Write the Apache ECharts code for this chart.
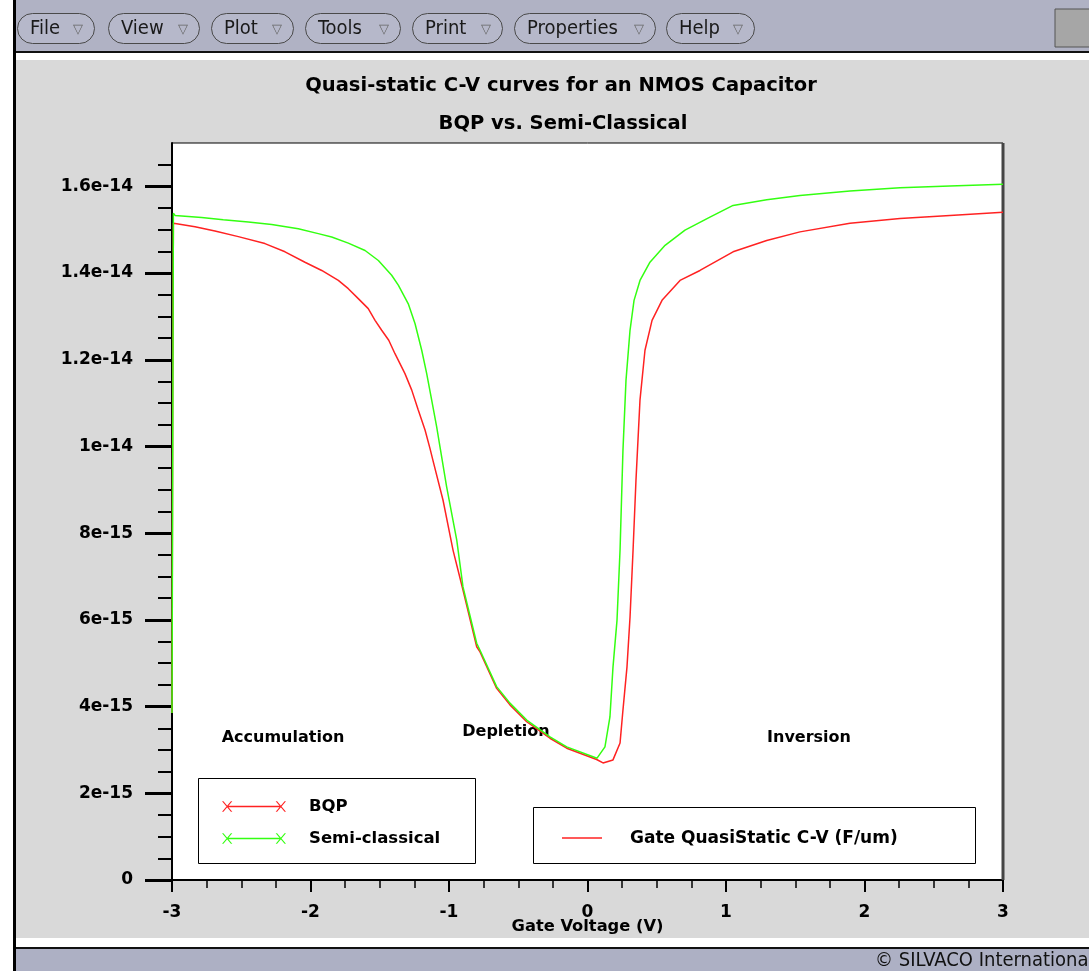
<!DOCTYPE html>
<html>
<head>
<meta charset="utf-8">
<title>Quasi-static C-V curves</title>
<script src="https://cdn.jsdelivr.net/npm/echarts@6/dist/echarts.min.js"></script>
<style>
  html, body { margin: 0; padding: 0; background: #fff; }
  #cv { width: 1089px; height: 971px; }
</style>
</head>
<body>
<div id="cv"></div>
<script>
// gate voltage (V) and capacitance (units of 1e-15 F/um)
var bqpV = [-3.0, -2.995, -2.99, -2.966, -2.834, -2.690, -2.521, -2.329, -2.184, -2.040, -1.919, -1.799, -1.727, -1.655, -1.583, -1.534, -1.486, -1.435, -1.390, -1.318, -1.269, -1.222, -1.173, -1.137, -1.116, -1.043, -0.971, -0.899, -0.8, -0.776, -0.656, -0.56, -0.439, -0.271, -0.15, 0.066, 0.112, 0.184, 0.235, 0.256, 0.285, 0.307, 0.329, 0.35, 0.379, 0.415, 0.466, 0.538, 0.668, 0.812, 1.051, 1.294, 1.534, 1.895, 2.256, 2.617, 3.0];
var bqpC = [3.85, 11.4, 15.15, 15.14, 15.07, 14.97, 14.84, 14.68, 14.49, 14.25, 14.06, 13.83, 13.64, 13.41, 13.18, 12.91, 12.68, 12.45, 12.14, 11.68, 11.30, 10.84, 10.38, 9.95, 9.68, 8.76, 7.61, 6.69, 5.38, 5.26, 4.42, 4.04, 3.65, 3.27, 3.04, 2.78, 2.70, 2.77, 3.16, 3.92, 4.91, 6.06, 7.61, 9.22, 11.07, 12.22, 12.91, 13.37, 13.83, 14.06, 14.49, 14.75, 14.95, 15.15, 15.26, 15.33, 15.40];

var semiV = [-3.0, -2.99, -2.978, -2.786, -2.630, -2.449, -2.280, -2.088, -1.944, -1.847, -1.727, -1.606, -1.510, -1.414, -1.366, -1.294, -1.245, -1.197, -1.161, -1.125, -1.089, -1.065, -1.017, -0.944, -0.899, -0.8, -0.776, -0.656, -0.56, -0.439, -0.271, -0.15, 0.069, 0.126, 0.162, 0.184, 0.213, 0.235, 0.256, 0.278, 0.307, 0.336, 0.379, 0.451, 0.56, 0.704, 0.884, 1.051, 1.294, 1.534, 1.895, 2.256, 2.617, 3.0];
var semiC = [3.85, 15.38, 15.33, 15.28, 15.23, 15.18, 15.12, 15.02, 14.91, 14.83, 14.69, 14.52, 14.29, 13.95, 13.72, 13.29, 12.83, 12.22, 11.68, 11.07, 10.45, 9.99, 9.07, 7.84, 6.76, 5.46, 5.30, 4.46, 4.08, 3.69, 3.30, 3.07, 2.81, 3.07, 3.76, 4.91, 5.99, 7.61, 9.91, 11.53, 12.68, 13.37, 13.83, 14.25, 14.64, 14.99, 15.29, 15.56, 15.69, 15.79, 15.89, 15.97, 16.01, 16.05];

var yTickValues = [0, 2, 4, 6, 8, 10, 12, 14, 16];
var yTickLabels = ['0', '2e-15', '4e-15', '6e-15', '8e-15', '1e-14', '1.2e-14', '1.4e-14', '1.6e-14'];
var seriesNames = ['BQP', 'Semi-classical'];
var regionNames = ['Accumulation', 'Depletion', 'Inversion'];
var menuNames = ['File', 'View', 'Plot', 'Tools', 'Print', 'Properties', 'Help'];

function zip(xs, ys) {
    var out = [];
    for (var i = 0; i < xs.length; i++) {
        out.push([xs[i], ys[i]]);
    }
    return out;
}

var FONT = 'DejaVu Sans';
var MENU_FONT = '"DejaVu Sans Condensed", "DejaVu Sans"';
var RED = '#ff2222';
var GREEN = '#33ff11';

// line with an x at each end, like the TonyPlot legend
var legendIcon = 'path://M1,1L2.4,1L11,11L9.6,11Z M9.6,1L11,1L2.4,11L1,11Z' +
    ' M6,5.3L58,5.3L58,6.7L6,6.7Z' +
    ' M53,1L54.4,1L63,11L61.6,11Z M61.6,1L63,1L54.4,11L53,11Z';

// window chrome: menu bar, borders, footer
var menuLeft = [17, 108, 211, 305, 412, 514, 666];
var menuRight = [94, 199, 293, 400, 502, 655, 754];
var chrome = [
    {type: 'rect', shape: {x: 0, y: 0, width: 1089, height: 971}, style: {fill: '#d9d9d9'}, z: -10},
    {type: 'rect', shape: {x: 16, y: 0, width: 1073, height: 51}, style: {fill: '#b0b2c4'}, z: -9},
    {type: 'rect', shape: {x: 16, y: 51, width: 1073, height: 2}, style: {fill: '#111'}, z: -9},
    {type: 'rect', shape: {x: 16, y: 53, width: 1073, height: 7}, style: {fill: '#fff'}, z: -9},
    {type: 'rect', shape: {x: 16, y: 938, width: 1073, height: 9}, style: {fill: '#fff'}, z: -9},
    {type: 'rect', shape: {x: 16, y: 947, width: 1073, height: 2}, style: {fill: '#111'}, z: -9},
    {type: 'rect', shape: {x: 16, y: 949, width: 1073, height: 22}, style: {fill: '#adb0c4'}, z: -9},
    {type: 'rect', shape: {x: 0, y: 0, width: 13, height: 971}, style: {fill: '#fff'}, z: -9},
    {type: 'rect', shape: {x: 13, y: 0, width: 3, height: 971}, style: {fill: '#000'}, z: -9},
    {type: 'rect', shape: {x: 1055, y: 9, width: 40, height: 38}, style: {fill: '#a6a6a6', stroke: '#555', lineWidth: 1}, z: -8},
    {type: 'text', x: 875, y: 961, style: {text: '\u00a9 SILVACO International', font: '20px ' + MENU_FONT, fill: '#111', textVerticalAlign: 'middle'}, z: -8}
];
for (var m = 0; m < menuNames.length; m++) {
    chrome.push({
        type: 'rect',
        shape: {x: menuLeft[m] + 0.5, y: 13.5, width: menuRight[m] - menuLeft[m], height: 30, r: 15},
        style: {fill: '#b6b8ca', stroke: '#4a4a4a', lineWidth: 1},
        z: -8
    });
    chrome.push({
        type: 'text', x: menuLeft[m] + 13, y: 29,
        style: {text: menuNames[m], font: '20px ' + MENU_FONT, fill: '#1a1a1a', textVerticalAlign: 'middle'},
        z: -7
    });
    chrome.push({
        type: 'text', x: menuRight[m] - 21, y: 30,
        style: {text: '\u25bd', font: '13px "DejaVu Sans"', fill: '#666', textVerticalAlign: 'middle'},
        z: -7
    });
}

// legend frames, plot border and region annotations
var notes = [
    {type: 'line', shape: {x1: 1003, y1: 143, x2: 1003, y2: 880}, style: {stroke: '#444', lineWidth: 3}, z: 2},
    {type: 'rect', shape: {x: 198.5, y: 778.5, width: 277, height: 85}, style: {fill: '#fff', stroke: '#000', lineWidth: 1}, z: 1},
    {type: 'rect', shape: {x: 533.5, y: 807.5, width: 442, height: 56}, style: {fill: '#fff', stroke: '#000', lineWidth: 1}, z: 1},
    {type: 'line', shape: {x1: 562, y1: 838, x2: 602, y2: 838}, style: {stroke: RED, lineWidth: 1.5}, z: 2},
    {type: 'text', x: 630, y: 839, style: {text: 'Gate QuasiStatic C-V (F/um)', font: 'bold 17px "DejaVu Sans"', fill: '#000', textVerticalAlign: 'middle'}, z: 2},
    {type: 'text', x: 283, y: 738, style: {text: regionNames[0], font: 'bold 16px "DejaVu Sans"', fill: '#000', textAlign: 'center', textVerticalAlign: 'middle'}, z: 2},
    {type: 'text', x: 506, y: 732, style: {text: regionNames[1], font: 'bold 16px "DejaVu Sans"', fill: '#000', textAlign: 'center', textVerticalAlign: 'middle'}, z: 2},
    {type: 'text', x: 809, y: 738, style: {text: regionNames[2], font: 'bold 16px "DejaVu Sans"', fill: '#000', textAlign: 'center', textVerticalAlign: 'middle'}, z: 2}
];

var chart = echarts.init(document.getElementById('cv'));

option = {
    animation: false,
    title: [
        {
            text: 'Quasi-static C-V curves for an NMOS Capacitor',
            left: 556, top: 71, textAlign: 'center',
            textStyle: {fontFamily: FONT, fontSize: 19.5, fontWeight: 'bold', color: '#000'}
        },
        {
            text: 'BQP vs. Semi-Classical',
            left: 558, top: 109, textAlign: 'center',
            textStyle: {fontFamily: FONT, fontSize: 19.5, fontWeight: 'bold', color: '#000'}
        }
    ],
    grid: {
        left: 172, right: 86, top: 143, bottom: 91,
        show: true, backgroundColor: '#fff', borderColor: '#000', borderWidth: 1
    },
    legend: {
        orient: 'vertical',
        left: 222, top: 798,
        padding: 0,
        itemWidth: 64, itemHeight: 12, itemGap: 15,
        icon: legendIcon,
        data: seriesNames,
        selectedMode: false,
        textStyle: {fontFamily: FONT, fontSize: 16.5, fontWeight: 'bold', color: '#000', padding: [0, 0, 0, 18]},
        z: 5
    },
    xAxis: {
        type: 'value',
        min: -3, max: 3, interval: 1,
        name: 'Gate Voltage (V)',
        nameLocation: 'middle',
        nameGap: 39,
        nameMoveOverlap: false,
        nameTextStyle: {fontFamily: FONT, fontSize: 16.3, fontWeight: 'bold', color: '#000'},
        axisLine: {onZero: false, lineStyle: {color: '#000', width: 2}},
        axisTick: {length: 12, lineStyle: {color: '#000', width: 2}},
        minorTick: {show: true, splitNumber: 4, length: 8, lineStyle: {color: '#000', width: 1.5}},
        splitLine: {show: false},
        axisLabel: {margin: 24, fontFamily: FONT, fontSize: 17, fontWeight: 'bold', color: '#000'}
    },
    yAxis: {
        type: 'value',
        min: 0, max: 17, interval: 2,
        axisLine: {show: true, onZero: false, lineStyle: {color: '#000', width: 2}},
        axisTick: {show: true, length: 27, customValues: yTickValues, lineStyle: {color: '#000', width: 3}},
        minorTick: {show: true, splitNumber: 4, length: 14, lineStyle: {color: '#000', width: 2}},
        splitLine: {show: false},
        axisLabel: {
            margin: 39, fontFamily: FONT, fontSize: 17, fontWeight: 'bold', color: '#000',
            customValues: yTickValues,
            formatter: function (v) {
                var i = yTickValues.indexOf(v);
                return i < 0 ? '' : yTickLabels[i];
            }
        }
    },
    graphic: chrome.concat(notes),
    series: [
        {
            name: seriesNames[0],
            type: 'line',
            data: zip(bqpV, bqpC),
            showSymbol: false,
            itemStyle: {color: RED},
            lineStyle: {color: RED, width: 1.5},
            z: 3
        },
        {
            name: seriesNames[1],
            type: 'line',
            data: zip(semiV, semiC),
            showSymbol: false,
            itemStyle: {color: GREEN},
            lineStyle: {color: GREEN, width: 1.5},
            z: 4
        }
    ]
};
chart.setOption(option);
</script>
</body>
</html>
